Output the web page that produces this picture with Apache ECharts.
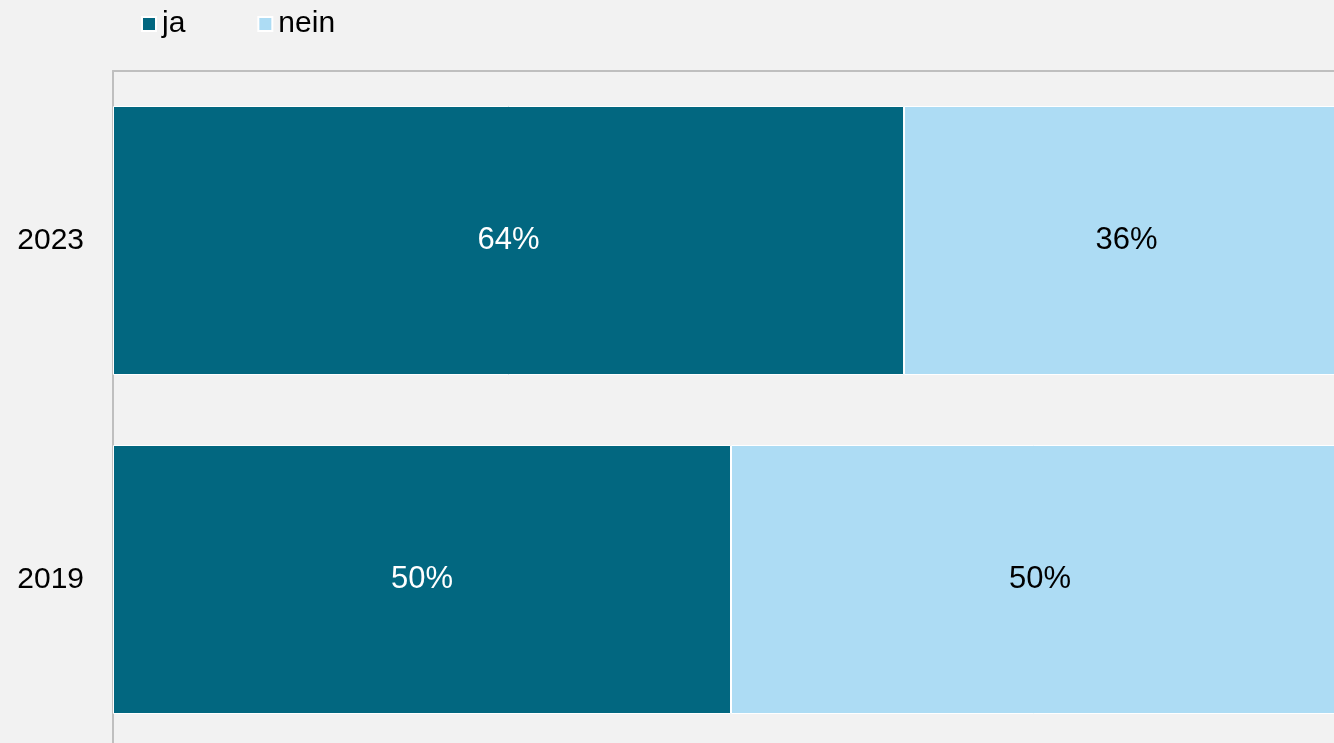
<!DOCTYPE html>
<html>
<head>
<meta charset="utf-8">
<script src="https://cdn.jsdelivr.net/npm/echarts@6/dist/echarts.min.js"></script>
<style>
  html, body { margin: 0; padding: 0; background: #f2f2f2; }
  #chart { width: 1334px; height: 743px; }
</style>
</head>
<body>
<div id="chart"></div>
<script>
// values
var years = ['2019', '2023']
var jaValues = [50, 64]
var neinValues = [50, 36]

var chart = echarts.init(document.getElementById('chart'))

chart.setOption({
  backgroundColor: '#f2f2f2',
  textStyle: {
    fontFamily: 'Liberation Sans, Arial, sans-serif'
  },
  legend: {
    left: 141,
    top: 9,
    padding: 0,
    itemWidth: 14,
    itemHeight: 14,
    itemGap: 72,
    icon: 'rect',
    textStyle: {
      fontSize: 30,
      color: '#000',
      padding: [0, 0, 0, 1]
    },
    data: ['ja', 'nein']
  },
  grid: {
    left: 113,
    top: 71,
    width: 1236,
    height: 678,
    containLabel: false,
    outerBoundsMode: 'none'
  },
  xAxis: {
    type: 'value',
    position: 'top',
    min: 0,
    max: 100,
    axisLine: { show: true, lineStyle: { color: '#bfbfbf', width: 2 } },
    axisTick: { show: false },
    axisLabel: { show: false },
    splitLine: { show: false }
  },
  yAxis: {
    type: 'category',
    data: years,
    axisLine: { show: true, lineStyle: { color: '#bfbfbf', width: 2 } },
    axisTick: { show: false },
    axisLabel: {
      fontSize: 30,
      color: '#000',
      margin: 29
    },
    splitLine: { show: false }
  },
  series: [
    {
      name: 'ja',
      type: 'bar',
      stack: 'total',
      barWidth: 269,
      data: jaValues,
      itemStyle: { color: '#026780', borderColor: '#ffffff', borderWidth: 1 },
      label: {
        show: true,
        position: 'inside',
        formatter: '{c}%',
        fontSize: 31,
        color: '#ffffff'
      }
    },
    {
      name: 'nein',
      type: 'bar',
      stack: 'total',
      barWidth: 269,
      data: neinValues,
      itemStyle: { color: '#addcf4', borderColor: '#ffffff', borderWidth: 1 },
      label: {
        show: true,
        position: 'inside',
        formatter: '{c}%',
        fontSize: 31,
        color: '#000000'
      }
    }
  ]
})
</script>
</body>
</html>
